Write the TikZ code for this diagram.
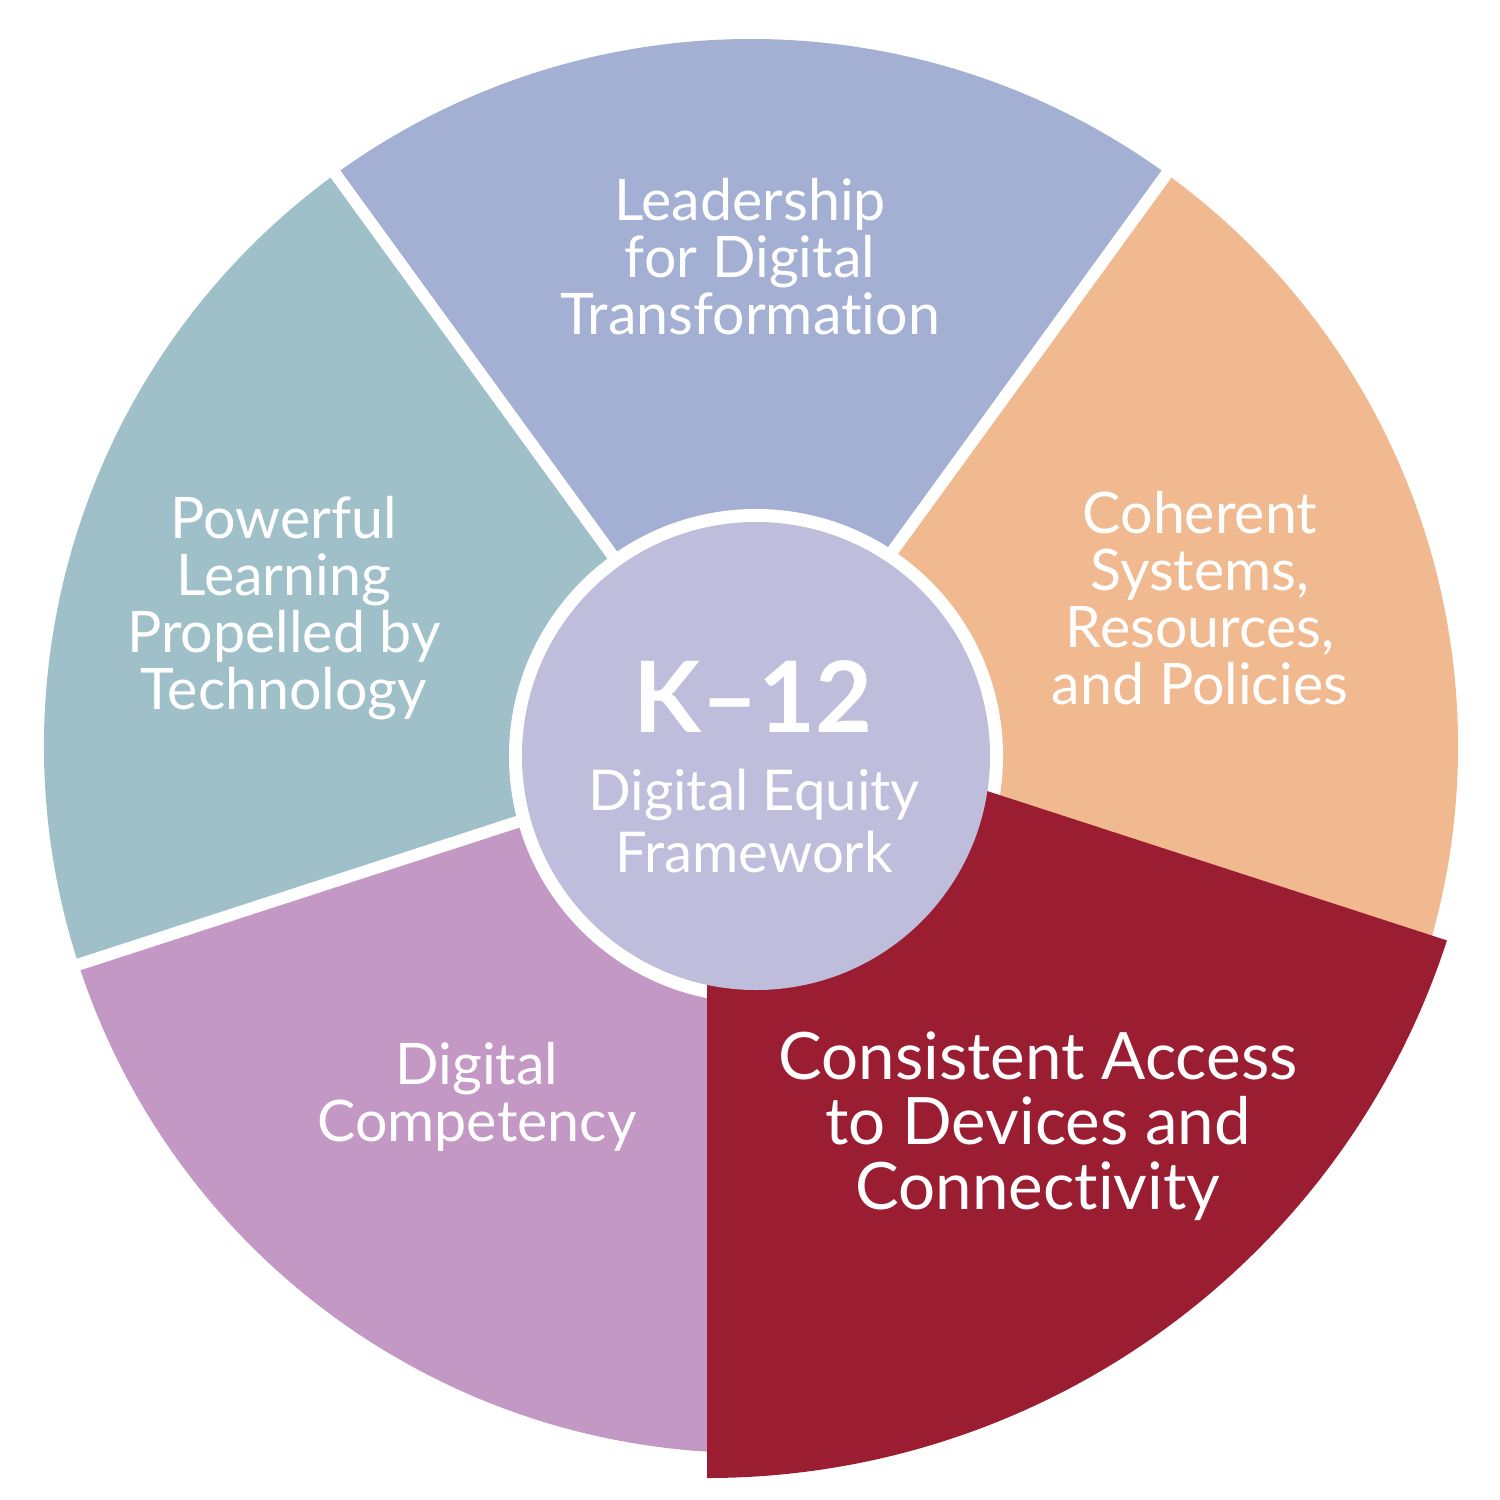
\documentclass[tikz,border=0pt]{standalone}
\usepackage{fontspec}
\setmainfont{Lato}[Ligatures={NoCommon,NoRare}]
\usetikzlibrary{positioning}

\definecolor{leadcol}{HTML}{A3AFD3}
\definecolor{cohercol}{HTML}{F0B990}
\definecolor{powercol}{HTML}{9FC0C9}
\definecolor{compcol}{HTML}{C398C5}
\definecolor{accesscol}{HTML}{9B1D31}
\definecolor{hubcol}{HTML}{BEBDDB}

\begin{document}
\begin{tikzpicture}[
	x=0.01cm, y=0.01cm,
	gap/.style={draw=white, line width=0.12cm},
	seglabel/.style={text=white, align=center, inner sep=0pt, font=\fontsize{16.3}{16.2}\selectfont},
	biglabel/.style={text=white, align=center, inner sep=0pt, font=\fontsize{18.6}{18.5}\selectfont},
	hublabel/.style={text=white, align=center, inner sep=0pt, font=\fontsize{16}{17.9}\selectfont}
]
\useasboundingbox (0,0) rectangle (1500,-1500);

\coordinate (pie) at (751,-746);
\coordinate (tip) at (707,-700);
\coordinate (hub) at (756,-756);

\fill[leadcol] (pie) -- ++(54:707) arc[start angle=54, end angle=126, radius=707] -- cycle;
\fill[powercol] (pie) -- ++(126:707) arc[start angle=126, end angle=198, radius=707] -- cycle;
\fill[compcol] (pie) -- ++(198:707) arc[start angle=198, end angle=270, radius=707] -- cycle;
\fill[cohercol] (pie) -- ++(-18:707) arc[start angle=-18, end angle=54, radius=707] -- cycle;

\draw[gap] (pie) -- ++(54:720);
\draw[gap] (pie) -- ++(126:720);
\draw[gap] (pie) -- ++(198:720);

\fill[white] (hub) circle[radius=247];
\fill[accesscol] (tip) -- ++(270:778) arc[start angle=270, end angle=342, radius=778] -- cycle;
\fill[hubcol] (hub) circle[radius=234];

\node[seglabel] (leadership) at (750,-257) {Leadership\\for Digital\\Transformation};
\node[seglabel] (coherent) at (1200,-598) {Coherent\\Systems,\\Resources,\\and Policies};
\node[seglabel] (powerful) at (284,-608) {Powerful\\Learning\\Propelled by\\Technology};
\node[seglabel] (competency) at (477,-1097) {Digital\\Competency};
\node[biglabel] (access) at (1038,-1126) {Consistent Access\\to Devices and\\Connectivity};

\node[text=white, inner sep=0pt, font=\fontsize{28}{30}\bfseries] (k12) at (753,-697) {K–12};
\node[hublabel] (equity) at (754,-821) {Digital Equity\\Framework};

\end{tikzpicture}
\end{document}
